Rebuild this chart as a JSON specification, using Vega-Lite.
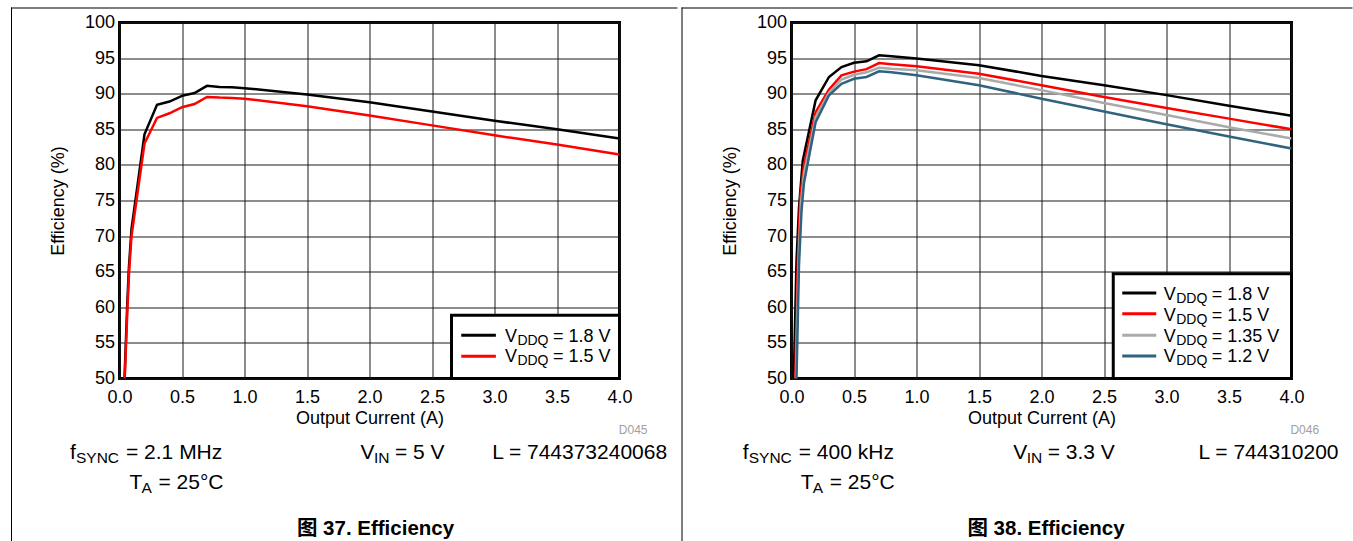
{
"$schema": "https://vega.github.io/schema/vega-lite/v6.json",
"autosize": {"type": "pad"},
"padding": {"left": 9.5, "top": 5.5, "right": 0, "bottom": 0},
"background": "white",
"spacing": 0,
"config": {
  "concat": {"spacing": 0},
  "view": {"stroke": "#000", "strokeWidth": 3},
  "axis": {"domain": false, "ticks": false, "grid": true, "gridColor": "#1a1a1a", "gridWidth": 1, "labelFont": "Liberation Sans, Arial, sans-serif", "labelFontSize": 18, "labelColor": "#000", "titleFont": "Liberation Sans, Arial, sans-serif", "titleFontSize": 18, "titleFontWeight": "normal", "titleColor": "#000", "labelFlush": false, "labelOverlap": false},
  "axisX": {"labelPadding": 10, "titlePadding": 3},
  "axisY": {"labelPadding": 5, "titlePadding": 17},
  "text": {"font": "Liberation Sans, Arial, sans-serif", "color": "#000"}
},
"datasets": {
  "fig37": [
    {"current": 0.04, "efficiency": 50, "vddq": "1.8 V"},
    {"current": 0.062, "efficiency": 60.5, "vddq": "1.8 V"},
    {"current": 0.075, "efficiency": 65.5, "vddq": "1.8 V"},
    {"current": 0.096, "efficiency": 71, "vddq": "1.8 V"},
    {"current": 0.2, "efficiency": 84.3, "vddq": "1.8 V"},
    {"current": 0.3, "efficiency": 88.45, "vddq": "1.8 V"},
    {"current": 0.4, "efficiency": 88.9, "vddq": "1.8 V"},
    {"current": 0.5, "efficiency": 89.7, "vddq": "1.8 V"},
    {"current": 0.6, "efficiency": 90.1, "vddq": "1.8 V"},
    {"current": 0.7, "efficiency": 91.1, "vddq": "1.8 V"},
    {"current": 0.8, "efficiency": 90.95, "vddq": "1.8 V"},
    {"current": 0.9, "efficiency": 90.9, "vddq": "1.8 V"},
    {"current": 1.0, "efficiency": 90.78, "vddq": "1.8 V"},
    {"current": 1.5, "efficiency": 89.9, "vddq": "1.8 V"},
    {"current": 2.0, "efficiency": 88.8, "vddq": "1.8 V"},
    {"current": 2.5, "efficiency": 87.5, "vddq": "1.8 V"},
    {"current": 3.0, "efficiency": 86.2, "vddq": "1.8 V"},
    {"current": 3.5, "efficiency": 85.0, "vddq": "1.8 V"},
    {"current": 4.0, "efficiency": 83.7, "vddq": "1.8 V"},
    {"current": 0.042, "efficiency": 50, "vddq": "1.5 V"},
    {"current": 0.064, "efficiency": 60, "vddq": "1.5 V"},
    {"current": 0.077, "efficiency": 65, "vddq": "1.5 V"},
    {"current": 0.096, "efficiency": 70, "vddq": "1.5 V"},
    {"current": 0.2, "efficiency": 83.0, "vddq": "1.5 V"},
    {"current": 0.3, "efficiency": 86.6, "vddq": "1.5 V"},
    {"current": 0.4, "efficiency": 87.25, "vddq": "1.5 V"},
    {"current": 0.5, "efficiency": 88.1, "vddq": "1.5 V"},
    {"current": 0.6, "efficiency": 88.55, "vddq": "1.5 V"},
    {"current": 0.7, "efficiency": 89.55, "vddq": "1.5 V"},
    {"current": 0.8, "efficiency": 89.45, "vddq": "1.5 V"},
    {"current": 0.9, "efficiency": 89.4, "vddq": "1.5 V"},
    {"current": 1.0, "efficiency": 89.3, "vddq": "1.5 V"},
    {"current": 1.5, "efficiency": 88.25, "vddq": "1.5 V"},
    {"current": 2.0, "efficiency": 86.95, "vddq": "1.5 V"},
    {"current": 2.5, "efficiency": 85.55, "vddq": "1.5 V"},
    {"current": 3.0, "efficiency": 84.15, "vddq": "1.5 V"},
    {"current": 3.5, "efficiency": 82.85, "vddq": "1.5 V"},
    {"current": 4.0, "efficiency": 81.45, "vddq": "1.5 V"}
  ],
  "fig38": [
    {"current": 0.018, "efficiency": 50, "vddq": "1.8 V"},
    {"current": 0.04, "efficiency": 66.5, "vddq": "1.8 V"},
    {"current": 0.06, "efficiency": 74, "vddq": "1.8 V"},
    {"current": 0.09, "efficiency": 80.6, "vddq": "1.8 V"},
    {"current": 0.193, "efficiency": 89.07, "vddq": "1.8 V"},
    {"current": 0.3, "efficiency": 92.35, "vddq": "1.8 V"},
    {"current": 0.4, "efficiency": 93.75, "vddq": "1.8 V"},
    {"current": 0.5, "efficiency": 94.35, "vddq": "1.8 V"},
    {"current": 0.6, "efficiency": 94.55, "vddq": "1.8 V"},
    {"current": 0.7, "efficiency": 95.39, "vddq": "1.8 V"},
    {"current": 0.8, "efficiency": 95.25, "vddq": "1.8 V"},
    {"current": 1.0, "efficiency": 94.95, "vddq": "1.8 V"},
    {"current": 1.5, "efficiency": 94.0, "vddq": "1.8 V"},
    {"current": 2.0, "efficiency": 92.5, "vddq": "1.8 V"},
    {"current": 2.5, "efficiency": 91.2, "vddq": "1.8 V"},
    {"current": 3.0, "efficiency": 89.8, "vddq": "1.8 V"},
    {"current": 3.5, "efficiency": 88.3, "vddq": "1.8 V"},
    {"current": 4.0, "efficiency": 86.9, "vddq": "1.8 V"},
    {"current": 0.03, "efficiency": 50, "vddq": "1.5 V"},
    {"current": 0.05, "efficiency": 66, "vddq": "1.5 V"},
    {"current": 0.07, "efficiency": 75.5, "vddq": "1.5 V"},
    {"current": 0.1, "efficiency": 80, "vddq": "1.5 V"},
    {"current": 0.193, "efficiency": 87.4, "vddq": "1.5 V"},
    {"current": 0.3, "efficiency": 90.6, "vddq": "1.5 V"},
    {"current": 0.4, "efficiency": 92.58, "vddq": "1.5 V"},
    {"current": 0.5, "efficiency": 93.1, "vddq": "1.5 V"},
    {"current": 0.6, "efficiency": 93.45, "vddq": "1.5 V"},
    {"current": 0.7, "efficiency": 94.3, "vddq": "1.5 V"},
    {"current": 0.8, "efficiency": 94.15, "vddq": "1.5 V"},
    {"current": 1.0, "efficiency": 93.85, "vddq": "1.5 V"},
    {"current": 1.5, "efficiency": 92.8, "vddq": "1.5 V"},
    {"current": 2.0, "efficiency": 91.2, "vddq": "1.5 V"},
    {"current": 2.5, "efficiency": 89.55, "vddq": "1.5 V"},
    {"current": 3.0, "efficiency": 88.0, "vddq": "1.5 V"},
    {"current": 3.5, "efficiency": 86.5, "vddq": "1.5 V"},
    {"current": 4.0, "efficiency": 85.0, "vddq": "1.5 V"},
    {"current": 0.035, "efficiency": 50, "vddq": "1.35 V"},
    {"current": 0.055, "efficiency": 66, "vddq": "1.35 V"},
    {"current": 0.075, "efficiency": 74.5, "vddq": "1.35 V"},
    {"current": 0.1, "efficiency": 78.8, "vddq": "1.35 V"},
    {"current": 0.193, "efficiency": 86.7, "vddq": "1.35 V"},
    {"current": 0.3, "efficiency": 90.14, "vddq": "1.35 V"},
    {"current": 0.4, "efficiency": 92.0, "vddq": "1.35 V"},
    {"current": 0.5, "efficiency": 92.66, "vddq": "1.35 V"},
    {"current": 0.6, "efficiency": 93.0, "vddq": "1.35 V"},
    {"current": 0.7, "efficiency": 93.65, "vddq": "1.35 V"},
    {"current": 0.8, "efficiency": 93.5, "vddq": "1.35 V"},
    {"current": 1.0, "efficiency": 93.3, "vddq": "1.35 V"},
    {"current": 1.5, "efficiency": 92.2, "vddq": "1.35 V"},
    {"current": 2.0, "efficiency": 90.5, "vddq": "1.35 V"},
    {"current": 2.5, "efficiency": 88.7, "vddq": "1.35 V"},
    {"current": 3.0, "efficiency": 87.0, "vddq": "1.35 V"},
    {"current": 3.5, "efficiency": 85.3, "vddq": "1.35 V"},
    {"current": 4.0, "efficiency": 83.7, "vddq": "1.35 V"},
    {"current": 0.04, "efficiency": 50, "vddq": "1.2 V"},
    {"current": 0.06, "efficiency": 66, "vddq": "1.2 V"},
    {"current": 0.08, "efficiency": 73.5, "vddq": "1.2 V"},
    {"current": 0.1, "efficiency": 77.5, "vddq": "1.2 V"},
    {"current": 0.193, "efficiency": 86.0, "vddq": "1.2 V"},
    {"current": 0.3, "efficiency": 89.78, "vddq": "1.2 V"},
    {"current": 0.4, "efficiency": 91.4, "vddq": "1.2 V"},
    {"current": 0.5, "efficiency": 92.1, "vddq": "1.2 V"},
    {"current": 0.6, "efficiency": 92.35, "vddq": "1.2 V"},
    {"current": 0.7, "efficiency": 93.14, "vddq": "1.2 V"},
    {"current": 0.8, "efficiency": 93.0, "vddq": "1.2 V"},
    {"current": 1.0, "efficiency": 92.6, "vddq": "1.2 V"},
    {"current": 1.5, "efficiency": 91.2, "vddq": "1.2 V"},
    {"current": 2.0, "efficiency": 89.3, "vddq": "1.2 V"},
    {"current": 2.5, "efficiency": 87.5, "vddq": "1.2 V"},
    {"current": 3.0, "efficiency": 85.7, "vddq": "1.2 V"},
    {"current": 3.5, "efficiency": 84.0, "vddq": "1.2 V"},
    {"current": 4.0, "efficiency": 82.3, "vddq": "1.2 V"}
  ]
},
"hconcat": [
{
  "width": 500, "height": 356,
  "resolve": {"axis": {"x": "independent", "y": "independent"}},
  "layer": [
    {"data": {"name": "fig37"}, "mark": {"type": "line", "strokeWidth": 2.5, "clip": true},
     "encoding": {
       "x": {"field": "current", "type": "quantitative", "scale": {"domain": [0, 4], "nice": false, "zero": false}, "axis": {"title": "Output Current (A)", "values": [0, 0.5, 1, 1.5, 2, 2.5, 3, 3.5, 4], "format": ".1f"}},
       "y": {"field": "efficiency", "type": "quantitative", "scale": {"domain": [50, 100], "nice": false, "zero": false}, "axis": {"title": "Efficiency (%)", "values": [50, 55, 60, 65, 70, 75, 80, 85, 90, 95, 100], "format": "d"}},
       "color": {"field": "vddq", "type": "nominal", "scale": {"domain": ["1.8 V", "1.5 V", "1.35 V", "1.2 V"], "range": ["#000000", "#ff0000", "#aaaaaa", "#30637f"]}, "legend": null}
     }},
    {"data": {"values": [{}]}, "mark": {"type": "rect", "fill": "#ffffff", "stroke": "#000000", "strokeWidth": 3},
     "encoding": {"x": {"datum": 2.656, "axis": null}, "x2": {"datum": 4}, "y": {"datum": 58.87, "axis": null}, "y2": {"datum": 50}}},
    {"data": {"values": [{}]}, "mark": {"type": "rule", "stroke": "#000000", "strokeWidth": 3},
     "encoding": {"x": {"datum": 2.734, "axis": null}, "x2": {"datum": 3.011}, "y": {"datum": 56.07, "axis": null}}},
    {"data": {"values": [{}]}, "mark": {"type": "rule", "stroke": "#ff0000", "strokeWidth": 3},
     "encoding": {"x": {"datum": 2.734, "axis": null}, "x2": {"datum": 3.011}, "y": {"datum": 53.12, "axis": null}}},
    {"data": {"values": [{}]}, "mark": {"type": "text", "text": "V", "align": "left", "baseline": "alphabetic", "fontSize": 18},
     "encoding": {"x": {"datum": 3.083, "axis": null}, "y": {"datum": 55.13, "axis": null}}},
    {"data": {"values": [{}]}, "mark": {"type": "text", "text": "DDQ", "align": "left", "baseline": "alphabetic", "fontSize": 14, "dx": 12.5, "dy": 3},
     "encoding": {"x": {"datum": 3.083, "axis": null}, "y": {"datum": 55.13, "axis": null}}},
    {"data": {"values": [{}]}, "mark": {"type": "text", "text": "= 1.8 V", "align": "left", "baseline": "alphabetic", "fontSize": 18, "dx": 48},
     "encoding": {"x": {"datum": 3.083, "axis": null}, "y": {"datum": 55.13, "axis": null}}},
    {"data": {"values": [{}]}, "mark": {"type": "text", "text": "V", "align": "left", "baseline": "alphabetic", "fontSize": 18},
     "encoding": {"x": {"datum": 3.083, "axis": null}, "y": {"datum": 52.32, "axis": null}}},
    {"data": {"values": [{}]}, "mark": {"type": "text", "text": "DDQ", "align": "left", "baseline": "alphabetic", "fontSize": 14, "dx": 12.5, "dy": 3},
     "encoding": {"x": {"datum": 3.083, "axis": null}, "y": {"datum": 52.32, "axis": null}}},
    {"data": {"values": [{}]}, "mark": {"type": "text", "text": "= 1.5 V", "align": "left", "baseline": "alphabetic", "fontSize": 18, "dx": 48},
     "encoding": {"x": {"datum": 3.083, "axis": null}, "y": {"datum": 52.32, "axis": null}}},
    {"data": {"values": [{}]}, "mark": {"type": "text", "text": "D045", "align": "right", "baseline": "alphabetic", "fontSize": 12, "color": "#a0a0a0"},
     "encoding": {"x": {"datum": 4.224, "axis": null}, "y": {"datum": 42.2, "axis": null}}},
    {"data": {"values": [{}]}, "mark": {"type": "text", "text": "f", "align": "left", "baseline": "alphabetic", "fontSize": 21},
     "encoding": {"x": {"datum": -0.396, "axis": null}, "y": {"datum": 38.69, "axis": null}}},
    {"data": {"values": [{}]}, "mark": {"type": "text", "text": "SYNC", "align": "left", "baseline": "alphabetic", "fontSize": 15.5, "dx": 6, "dy": 4},
     "encoding": {"x": {"datum": -0.396, "axis": null}, "y": {"datum": 38.69, "axis": null}}},
    {"data": {"values": [{}]}, "mark": {"type": "text", "text": "= 2.1 MHz", "align": "left", "baseline": "alphabetic", "fontSize": 21, "dx": 56},
     "encoding": {"x": {"datum": -0.396, "axis": null}, "y": {"datum": 38.69, "axis": null}}},
    {"data": {"values": [{}]}, "mark": {"type": "text", "text": "T", "align": "left", "baseline": "alphabetic", "fontSize": 21},
     "encoding": {"x": {"datum": 0.08, "axis": null}, "y": {"datum": 34.48, "axis": null}}},
    {"data": {"values": [{}]}, "mark": {"type": "text", "text": "A", "align": "left", "baseline": "alphabetic", "fontSize": 15.5, "dx": 12, "dy": 4},
     "encoding": {"x": {"datum": 0.08, "axis": null}, "y": {"datum": 34.48, "axis": null}}},
    {"data": {"values": [{}]}, "mark": {"type": "text", "text": "= 25°C", "align": "left", "baseline": "alphabetic", "fontSize": 21, "dx": 29},
     "encoding": {"x": {"datum": 0.08, "axis": null}, "y": {"datum": 34.48, "axis": null}}},
    {"data": {"values": [{}]}, "mark": {"type": "text", "text": "V", "align": "left", "baseline": "alphabetic", "fontSize": 21},
     "encoding": {"x": {"datum": 1.928, "axis": null}, "y": {"datum": 38.69, "axis": null}}},
    {"data": {"values": [{}]}, "mark": {"type": "text", "text": "IN", "align": "left", "baseline": "alphabetic", "fontSize": 15.5, "dx": 13.5, "dy": 4},
     "encoding": {"x": {"datum": 1.928, "axis": null}, "y": {"datum": 38.69, "axis": null}}},
    {"data": {"values": [{}]}, "mark": {"type": "text", "text": "= 5 V", "align": "left", "baseline": "alphabetic", "fontSize": 21, "dx": 34.5},
     "encoding": {"x": {"datum": 1.928, "axis": null}, "y": {"datum": 38.69, "axis": null}}},
    {"data": {"values": [{}]}, "mark": {"type": "text", "text": "L = 744373240068", "align": "right", "baseline": "alphabetic", "fontSize": 21},
     "encoding": {"x": {"datum": 4.381, "axis": null}, "y": {"datum": 38.69, "axis": null}}},
    {"data": {"values": [{}]}, "mark": {"type": "text", "text": "图 37. Efficiency", "align": "center", "baseline": "alphabetic", "fontSize": 20.5, "fontWeight": "bold", "font": "Liberation Sans, Noto Sans CJK SC, sans-serif"},
     "encoding": {"x": {"datum": 2.048, "axis": null}, "y": {"datum": 28.02, "axis": null}}},
    {"data": {"values": [{}]}, "mark": {"type": "rect", "color": "#000000"},
     "encoding": {"x": {"datum": -0.868, "axis": null}, "x2": {"datum": -0.86}, "y": {"datum": 102.1, "axis": null}, "y2": {"datum": 27.0}}},
    {"data": {"values": [{}]}, "mark": {"type": "rect", "color": "#000000"},
     "encoding": {"x": {"datum": -0.868, "axis": null}, "x2": {"datum": 4.464}, "y": {"datum": 102.1, "axis": null}, "y2": {"datum": 101.96}}}
  ]
},
{
  "width": 500, "height": 356,
  "resolve": {"axis": {"x": "independent", "y": "independent"}},
  "layer": [
    {"data": {"name": "fig38"}, "mark": {"type": "line", "strokeWidth": 2.5, "clip": true},
     "encoding": {
       "x": {"field": "current", "type": "quantitative", "scale": {"domain": [0, 4], "nice": false, "zero": false}, "axis": {"title": "Output Current (A)", "values": [0, 0.5, 1, 1.5, 2, 2.5, 3, 3.5, 4], "format": ".1f"}},
       "y": {"field": "efficiency", "type": "quantitative", "scale": {"domain": [50, 100], "nice": false, "zero": false}, "axis": {"title": "Efficiency (%)", "values": [50, 55, 60, 65, 70, 75, 80, 85, 90, 95, 100], "format": "d"}},
       "color": {"field": "vddq", "type": "nominal", "scale": {"domain": ["1.8 V", "1.5 V", "1.35 V", "1.2 V"], "range": ["#000000", "#ff0000", "#aaaaaa", "#30637f"]}, "legend": null}
     }},
    {"data": {"values": [{}]}, "mark": {"type": "rect", "fill": "#ffffff", "stroke": "#000000", "strokeWidth": 3},
     "encoding": {"x": {"datum": 2.574, "axis": null}, "x2": {"datum": 4}, "y": {"datum": 64.72, "axis": null}, "y2": {"datum": 50}}},
    {"data": {"values": [{}]}, "mark": {"type": "rule", "stroke": "#000000", "strokeWidth": 3},
     "encoding": {"x": {"datum": 2.646, "axis": null}, "x2": {"datum": 2.918}, "y": {"datum": 62.01, "axis": null}}},
    {"data": {"values": [{}]}, "mark": {"type": "rule", "stroke": "#ff0000", "strokeWidth": 3},
     "encoding": {"x": {"datum": 2.646, "axis": null}, "x2": {"datum": 2.918}, "y": {"datum": 59.1, "axis": null}}},
    {"data": {"values": [{}]}, "mark": {"type": "rule", "stroke": "#aaaaaa", "strokeWidth": 3},
     "encoding": {"x": {"datum": 2.646, "axis": null}, "x2": {"datum": 2.918}, "y": {"datum": 56.07, "axis": null}}},
    {"data": {"values": [{}]}, "mark": {"type": "rule", "stroke": "#30637f", "strokeWidth": 3},
     "encoding": {"x": {"datum": 2.646, "axis": null}, "x2": {"datum": 2.918}, "y": {"datum": 53.16, "axis": null}}},
    {"data": {"values": [{}]}, "mark": {"type": "text", "text": "V", "align": "left", "baseline": "alphabetic", "fontSize": 18},
     "encoding": {"x": {"datum": 2.978, "axis": null}, "y": {"datum": 60.98, "axis": null}}},
    {"data": {"values": [{}]}, "mark": {"type": "text", "text": "DDQ", "align": "left", "baseline": "alphabetic", "fontSize": 14, "dx": 12.5, "dy": 3},
     "encoding": {"x": {"datum": 2.978, "axis": null}, "y": {"datum": 60.98, "axis": null}}},
    {"data": {"values": [{}]}, "mark": {"type": "text", "text": "= 1.8 V", "align": "left", "baseline": "alphabetic", "fontSize": 18, "dx": 48},
     "encoding": {"x": {"datum": 2.978, "axis": null}, "y": {"datum": 60.98, "axis": null}}},
    {"data": {"values": [{}]}, "mark": {"type": "text", "text": "V", "align": "left", "baseline": "alphabetic", "fontSize": 18},
     "encoding": {"x": {"datum": 2.978, "axis": null}, "y": {"datum": 58.07, "axis": null}}},
    {"data": {"values": [{}]}, "mark": {"type": "text", "text": "DDQ", "align": "left", "baseline": "alphabetic", "fontSize": 14, "dx": 12.5, "dy": 3},
     "encoding": {"x": {"datum": 2.978, "axis": null}, "y": {"datum": 58.07, "axis": null}}},
    {"data": {"values": [{}]}, "mark": {"type": "text", "text": "= 1.5 V", "align": "left", "baseline": "alphabetic", "fontSize": 18, "dx": 48},
     "encoding": {"x": {"datum": 2.978, "axis": null}, "y": {"datum": 58.07, "axis": null}}},
    {"data": {"values": [{}]}, "mark": {"type": "text", "text": "V", "align": "left", "baseline": "alphabetic", "fontSize": 18},
     "encoding": {"x": {"datum": 2.978, "axis": null}, "y": {"datum": 55.13, "axis": null}}},
    {"data": {"values": [{}]}, "mark": {"type": "text", "text": "DDQ", "align": "left", "baseline": "alphabetic", "fontSize": 14, "dx": 12.5, "dy": 3},
     "encoding": {"x": {"datum": 2.978, "axis": null}, "y": {"datum": 55.13, "axis": null}}},
    {"data": {"values": [{}]}, "mark": {"type": "text", "text": "= 1.35 V", "align": "left", "baseline": "alphabetic", "fontSize": 18, "dx": 48},
     "encoding": {"x": {"datum": 2.978, "axis": null}, "y": {"datum": 55.13, "axis": null}}},
    {"data": {"values": [{}]}, "mark": {"type": "text", "text": "V", "align": "left", "baseline": "alphabetic", "fontSize": 18},
     "encoding": {"x": {"datum": 2.978, "axis": null}, "y": {"datum": 52.32, "axis": null}}},
    {"data": {"values": [{}]}, "mark": {"type": "text", "text": "DDQ", "align": "left", "baseline": "alphabetic", "fontSize": 14, "dx": 12.5, "dy": 3},
     "encoding": {"x": {"datum": 2.978, "axis": null}, "y": {"datum": 52.32, "axis": null}}},
    {"data": {"values": [{}]}, "mark": {"type": "text", "text": "= 1.2 V", "align": "left", "baseline": "alphabetic", "fontSize": 18, "dx": 48},
     "encoding": {"x": {"datum": 2.978, "axis": null}, "y": {"datum": 52.32, "axis": null}}},
    {"data": {"values": [{}]}, "mark": {"type": "text", "text": "D046", "align": "right", "baseline": "alphabetic", "fontSize": 12, "color": "#a0a0a0"},
     "encoding": {"x": {"datum": 4.221, "axis": null}, "y": {"datum": 42.2, "axis": null}}},
    {"data": {"values": [{}]}, "mark": {"type": "text", "text": "f", "align": "left", "baseline": "alphabetic", "fontSize": 21},
     "encoding": {"x": {"datum": -0.39, "axis": null}, "y": {"datum": 38.69, "axis": null}}},
    {"data": {"values": [{}]}, "mark": {"type": "text", "text": "SYNC", "align": "left", "baseline": "alphabetic", "fontSize": 15.5, "dx": 6, "dy": 4},
     "encoding": {"x": {"datum": -0.39, "axis": null}, "y": {"datum": 38.69, "axis": null}}},
    {"data": {"values": [{}]}, "mark": {"type": "text", "text": "= 400 kHz", "align": "left", "baseline": "alphabetic", "fontSize": 21, "dx": 56},
     "encoding": {"x": {"datum": -0.39, "axis": null}, "y": {"datum": 38.69, "axis": null}}},
    {"data": {"values": [{}]}, "mark": {"type": "text", "text": "T", "align": "left", "baseline": "alphabetic", "fontSize": 21},
     "encoding": {"x": {"datum": 0.074, "axis": null}, "y": {"datum": 34.48, "axis": null}}},
    {"data": {"values": [{}]}, "mark": {"type": "text", "text": "A", "align": "left", "baseline": "alphabetic", "fontSize": 15.5, "dx": 12, "dy": 4},
     "encoding": {"x": {"datum": 0.074, "axis": null}, "y": {"datum": 34.48, "axis": null}}},
    {"data": {"values": [{}]}, "mark": {"type": "text", "text": "= 25°C", "align": "left", "baseline": "alphabetic", "fontSize": 21, "dx": 29},
     "encoding": {"x": {"datum": 0.074, "axis": null}, "y": {"datum": 34.48, "axis": null}}},
    {"data": {"values": [{}]}, "mark": {"type": "text", "text": "V", "align": "left", "baseline": "alphabetic", "fontSize": 21},
     "encoding": {"x": {"datum": 1.773, "axis": null}, "y": {"datum": 38.69, "axis": null}}},
    {"data": {"values": [{}]}, "mark": {"type": "text", "text": "IN", "align": "left", "baseline": "alphabetic", "fontSize": 15.5, "dx": 13.5, "dy": 4},
     "encoding": {"x": {"datum": 1.773, "axis": null}, "y": {"datum": 38.69, "axis": null}}},
    {"data": {"values": [{}]}, "mark": {"type": "text", "text": "= 3.3 V", "align": "left", "baseline": "alphabetic", "fontSize": 21, "dx": 34.5},
     "encoding": {"x": {"datum": 1.773, "axis": null}, "y": {"datum": 38.69, "axis": null}}},
    {"data": {"values": [{}]}, "mark": {"type": "text", "text": "L = 744310200", "align": "right", "baseline": "alphabetic", "fontSize": 21},
     "encoding": {"x": {"datum": 4.376, "axis": null}, "y": {"datum": 38.69, "axis": null}}},
    {"data": {"values": [{}]}, "mark": {"type": "text", "text": "图 38. Efficiency", "align": "center", "baseline": "alphabetic", "fontSize": 20.5, "fontWeight": "bold", "font": "Liberation Sans, Noto Sans CJK SC, sans-serif"},
     "encoding": {"x": {"datum": 2.036, "axis": null}, "y": {"datum": 28.02, "axis": null}}},
    {"data": {"values": [{}]}, "mark": {"type": "rect", "color": "#000000"},
     "encoding": {"x": {"datum": -0.88, "axis": null}, "x2": {"datum": -0.872}, "y": {"datum": 102.1, "axis": null}, "y2": {"datum": 27.0}}},
    {"data": {"values": [{}]}, "mark": {"type": "rect", "color": "#000000"},
     "encoding": {"x": {"datum": -0.88, "axis": null}, "x2": {"datum": 4.488}, "y": {"datum": 102.1, "axis": null}, "y2": {"datum": 101.96}}}
  ]
}
]
}
